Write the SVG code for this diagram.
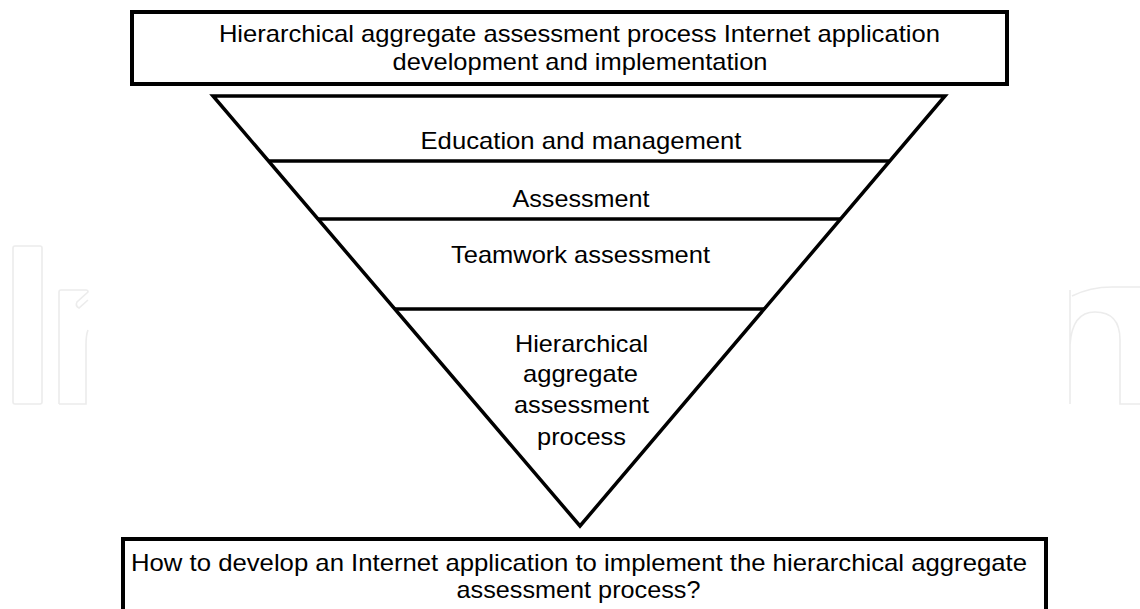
<svg xmlns="http://www.w3.org/2000/svg" width="1140" height="609" viewBox="0 0 1140 609">
<style>
.wm{fill:none;stroke:#ececec;stroke-width:1.6}
.box{fill:#fff;stroke:#000;stroke-width:4}
.ln{fill:none;stroke:#000;stroke-width:3.5;stroke-linejoin:miter}
text{font-family:"Liberation Sans",Arial,sans-serif;font-size:24px;fill:#000;text-anchor:middle}
</style>
<rect width="1140" height="609" fill="#fff"/>
<g id="watermark">
<rect class="wm" x="13" y="246" width="29" height="158" rx="2"/>
<path class="wm" d="M59,404 V292 Q59,290 61,290 H86 Q88,290 88,292 L77,302 Q75,306 79,308 L88,300 M88,330 Q86,335 86,345 V404 H59"/>
<path class="wm" d="M1070,404 V290 M1072,296 Q1090,287 1112,287 H1140 M1070,345 Q1072,312 1095,312 Q1120,312 1120,340 V404 H1140"/>
</g>
<g id="top-box">
<rect class="box" x="132" y="12" width="875" height="72"/>
<text x="579.4" y="42" textLength="721" lengthAdjust="spacingAndGlyphs">Hierarchical aggregate assessment process Internet application</text>
<text x="580" y="70" textLength="375" lengthAdjust="spacingAndGlyphs">development and implementation</text>
</g>
<g id="funnel">
<polygon class="ln" points="213,96 945,96 580,526"/>
</g>
<g id="connectors">
<line class="ln" x1="268.5" y1="161" x2="889.8" y2="161"/>
<line class="ln" x1="318" y1="219" x2="840.6" y2="219"/>
<line class="ln" x1="394.8" y1="309" x2="764.2" y2="309"/>
</g>
<g id="layer-education">
<text x="581" y="149" textLength="321" lengthAdjust="spacingAndGlyphs">Education and management</text>
</g>
<g id="layer-assessment">
<text x="581" y="207" textLength="137" lengthAdjust="spacingAndGlyphs">Assessment</text>
</g>
<g id="layer-teamwork">
<text x="580.5" y="263" textLength="259" lengthAdjust="spacingAndGlyphs">Teamwork assessment</text>
</g>
<g id="layer-hierarchical">
<text x="581.5" y="352" textLength="133" lengthAdjust="spacingAndGlyphs">Hierarchical</text>
<text x="580.5" y="382" textLength="115" lengthAdjust="spacingAndGlyphs">aggregate</text>
<text x="581.5" y="413" textLength="135" lengthAdjust="spacingAndGlyphs">assessment</text>
<text x="581.5" y="445" textLength="89" lengthAdjust="spacingAndGlyphs">process</text>
</g>
<g id="bottom-box">
<rect class="box" x="123" y="539" width="923" height="82"/>
<text x="579" y="571" textLength="896" lengthAdjust="spacingAndGlyphs">How to develop an Internet application to implement the hierarchical aggregate</text>
<text x="578.5" y="598" textLength="244" lengthAdjust="spacingAndGlyphs">assessment process?</text>
</g>
</svg>
